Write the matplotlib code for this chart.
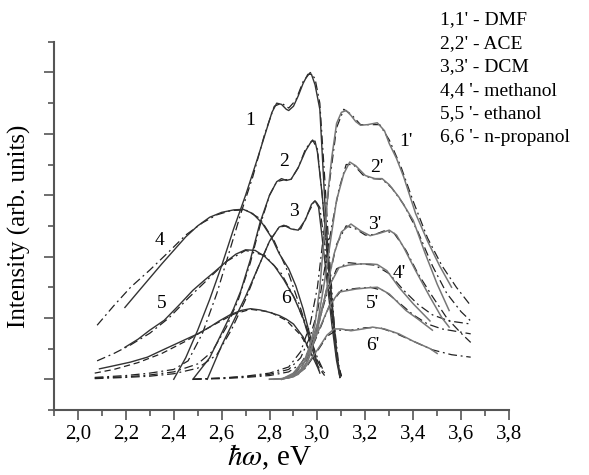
import numpy as np
import matplotlib
matplotlib.use("Agg")
import matplotlib.pyplot as plt
from matplotlib.ticker import MultipleLocator

plt.rcParams['font.family'] = ['Liberation Serif', 'DejaVu Serif']
plt.rcParams['mathtext.fontset'] = 'stix'

# absorption curves 1-6 (solid) and their fits (dash-dot)
x1 = [2.40, 2.45, 2.50, 2.55, 2.60, 2.65, 2.70, 2.75, 2.79, 2.81, 2.83, 2.85, 2.87, 2.88, 2.90, 2.92, 2.94, 2.96, 2.975, 2.99, 3.00, 3.01, 3.035, 3.06, 3.08, 3.094]
y1 = [0.0, 0.35, 0.8, 1.3, 1.85, 2.45, 3.0, 3.6, 4.1, 4.35, 4.5, 4.48, 4.4, 4.38, 4.45, 4.62, 4.82, 4.97, 4.97, 4.8, 4.6, 4.4, 2.59, 1.3, 0.45, 0.03]
x2 = [2.48, 2.55, 2.60, 2.65, 2.68, 2.72, 2.76, 2.80, 2.83, 2.85, 2.87, 2.89, 2.92, 2.95, 2.975, 2.99, 3.00, 3.02, 3.04, 3.06, 3.08, 3.094]
y2 = [0.0, 0.35, 0.75, 1.15, 1.44, 1.95, 2.55, 3.0, 3.22, 3.27, 3.24, 3.26, 3.45, 3.72, 3.88, 3.88, 3.7, 3.0, 2.1, 1.2, 0.4, 0.03]
x3 = [2.54, 2.60, 2.65, 2.70, 2.75, 2.80, 2.84, 2.86, 2.89, 2.92, 2.95, 2.975, 2.99, 3.005, 3.02, 3.04, 3.06, 3.08, 3.094]
y3 = [0.0, 0.55, 0.95, 1.35, 1.8, 2.25, 2.48, 2.51, 2.45, 2.43, 2.6, 2.85, 2.91, 2.8, 2.3, 1.6, 0.9, 0.3, 0.03]
x4 = [2.196, 2.25, 2.30, 2.35, 2.40, 2.45, 2.50, 2.55, 2.60, 2.65, 2.69, 2.73, 2.77, 2.81, 2.84, 2.88, 2.91, 2.94, 2.97, 2.99, 3.005]
y4 = [1.17, 1.42, 1.65, 1.88, 2.1, 2.32, 2.5, 2.64, 2.72, 2.76, 2.77, 2.7, 2.54, 2.3, 2.05, 1.8, 1.52, 1.15, 0.7, 0.4, 0.15]
x5 = [2.196, 2.25, 2.30, 2.36, 2.42, 2.48, 2.53, 2.57, 2.62, 2.66, 2.70, 2.74, 2.78, 2.82, 2.86, 2.90, 2.94, 2.97, 3.00, 3.01]
y5 = [0.52, 0.65, 0.8, 0.96, 1.2, 1.45, 1.62, 1.75, 1.92, 2.04, 2.11, 2.1, 2.0, 1.85, 1.62, 1.35, 1.0, 0.6, 0.22, 0.1]
x6 = [2.09, 2.15, 2.22, 2.29, 2.35, 2.40, 2.45, 2.50, 2.55, 2.59, 2.635, 2.68, 2.72, 2.76, 2.80, 2.84, 2.87, 2.90, 2.94, 2.975, 3.00]
y6 = [0.17, 0.22, 0.28, 0.36, 0.47, 0.56, 0.65, 0.74, 0.85, 0.95, 1.05, 1.12, 1.15, 1.13, 1.09, 1.04, 0.98, 0.9, 0.69, 0.41, 0.2]

xf1 = [2.07, 2.2, 2.3, 2.4, 2.46, 2.52, 2.58, 2.63, 2.68, 2.73, 2.78, 2.82, 2.85, 2.88, 2.91, 2.94, 2.97, 2.99, 3.01, 3.03, 3.05, 3.07, 3.09, 3.10]
yf1 = [0.03, 0.06, 0.1, 0.16, 0.3, 0.75, 1.4, 2.05, 2.7, 3.3, 4.0, 4.45, 4.5, 4.42, 4.55, 4.85, 5.0, 4.9, 4.5, 3.3, 2.0, 0.9, 0.2, 0.05]
xf2 = [2.07, 2.2, 2.3, 2.4, 2.5, 2.56, 2.62, 2.67, 2.72, 2.76, 2.80, 2.83, 2.86, 2.89, 2.92, 2.95, 2.98, 3.00, 3.02, 3.04, 3.06, 3.08, 3.10]
yf2 = [0.02, 0.04, 0.07, 0.12, 0.25, 0.45, 0.85, 1.3, 1.9, 2.5, 3.0, 3.22, 3.25, 3.26, 3.45, 3.75, 3.9, 3.75, 3.0, 2.05, 1.1, 0.35, 0.05]
xf3 = [2.07, 2.2, 2.3, 2.4, 2.5, 2.58, 2.64, 2.70, 2.75, 2.80, 2.84, 2.87, 2.90, 2.93, 2.96, 2.99, 3.01, 3.03, 3.05, 3.07, 3.09, 3.10]
yf3 = [0.01, 0.03, 0.05, 0.09, 0.18, 0.4, 0.8, 1.3, 1.8, 2.25, 2.48, 2.5, 2.44, 2.45, 2.7, 2.92, 2.8, 2.2, 1.4, 0.7, 0.15, 0.03]
xf4 = [2.08, 2.15, 2.22, 2.3, 2.38, 2.45, 2.52, 2.58, 2.64, 2.70, 2.76, 2.82, 2.88, 2.93, 2.97, 3.00, 3.03]
yf4 = [0.88, 1.2, 1.5, 1.78, 2.08, 2.35, 2.55, 2.68, 2.75, 2.76, 2.62, 2.25, 1.72, 1.15, 0.65, 0.3, 0.08]
xf5 = [2.08, 2.15, 2.22, 2.3, 2.38, 2.46, 2.54, 2.62, 2.70, 2.78, 2.85, 2.91, 2.96, 3.00, 3.03]
yf5 = [0.3, 0.42, 0.56, 0.75, 1.0, 1.32, 1.62, 1.92, 2.1, 2.02, 1.72, 1.28, 0.78, 0.35, 0.1]
xf6 = [2.07, 2.15, 2.25, 2.35, 2.45, 2.55, 2.65, 2.72, 2.80, 2.87, 2.93, 2.97, 3.00, 3.03]
yf6 = [0.1, 0.16, 0.27, 0.42, 0.62, 0.85, 1.06, 1.14, 1.1, 0.96, 0.72, 0.45, 0.22, 0.06]

# emission curves 1'-6' (grey) and their fits
e1x = [2.80, 2.86, 2.90, 2.93, 2.96, 2.99, 3.01, 3.03, 3.045, 3.06, 3.08, 3.10, 3.12, 3.14, 3.16, 3.18, 3.21, 3.25, 3.28, 3.30, 3.33, 3.36, 3.41, 3.46, 3.51, 3.56]
e1y = [0.0, 0.01, 0.05, 0.15, 0.4, 0.9, 1.5, 2.4, 3.08, 3.62, 4.17, 4.35, 4.38, 4.3, 4.2, 4.14, 4.15, 4.18, 4.05, 3.84, 3.6, 3.30, 2.70, 2.25, 1.85, 1.5]
e2x = [2.80, 2.86, 2.90, 2.94, 2.97, 3.00, 3.03, 3.06, 3.08, 3.11, 3.135, 3.16, 3.20, 3.24, 3.27, 3.30, 3.34, 3.40, 3.45, 3.50, 3.55]
e2y = [0.0, 0.01, 0.04, 0.15, 0.4, 0.9, 1.6, 2.4, 2.92, 3.35, 3.54, 3.48, 3.32, 3.27, 3.27, 3.17, 2.97, 2.59, 2.05, 1.55, 1.12]
e3x = [2.82, 2.88, 2.92, 2.96, 3.00, 3.04, 3.07, 3.10, 3.14, 3.18, 3.22, 3.26, 3.30, 3.33, 3.36, 3.41, 3.47, 3.52, 3.55]
e3y = [0.0, 0.02, 0.08, 0.3, 0.8, 1.5, 2.05, 2.4, 2.53, 2.42, 2.34, 2.38, 2.43, 2.35, 2.15, 1.77, 1.34, 1.0, 0.85]
e4x = [2.85, 2.90, 2.95, 3.00, 3.04, 3.09, 3.13, 3.18, 3.22, 3.25, 3.29, 3.34, 3.40, 3.47]
e4y = [0.0, 0.1, 0.35, 0.9, 1.45, 1.82, 1.86, 1.88, 1.88, 1.87, 1.77, 1.5, 1.23, 0.95]
e5x = [2.85, 2.90, 2.95, 3.00, 3.05, 3.09, 3.16, 3.21, 3.25, 3.30, 3.37, 3.42, 3.48]
e5y = [0.0, 0.08, 0.3, 0.75, 1.2, 1.42, 1.47, 1.49, 1.50, 1.39, 1.12, 0.98, 0.8]
e6x = [2.85, 2.90, 2.95, 3.00, 3.04, 3.07, 3.10, 3.14, 3.19, 3.23, 3.28, 3.34, 3.40, 3.47, 3.50]
e6y = [0.0, 0.06, 0.2, 0.48, 0.72, 0.82, 0.82, 0.79, 0.82, 0.85, 0.82, 0.74, 0.62, 0.5, 0.42]

ef1x = [2.48, 2.6, 2.7, 2.8, 2.88, 2.93, 2.97, 3.0, 3.03, 3.05, 3.08, 3.11, 3.14, 3.18, 3.22, 3.26, 3.30, 3.35, 3.40, 3.46, 3.52, 3.58, 3.64]
ef1y = [0.0, 0.02, 0.05, 0.1, 0.2, 0.45, 0.9, 1.5, 2.5, 3.2, 4.1, 4.4, 4.32, 4.15, 4.15, 4.15, 3.9, 3.45, 2.9, 2.3, 1.85, 1.5, 1.2]
ef2x = [2.48, 2.6, 2.7, 2.8, 2.88, 2.93, 2.97, 3.0, 3.03, 3.06, 3.09, 3.12, 3.15, 3.19, 3.23, 3.27, 3.31, 3.36, 3.42, 3.48, 3.54, 3.60, 3.64]
ef2y = [0.0, 0.02, 0.04, 0.08, 0.16, 0.35, 0.7, 1.1, 1.8, 2.5, 3.1, 3.5, 3.5, 3.33, 3.27, 3.26, 3.12, 2.85, 2.4, 1.85, 1.4, 1.1, 0.95]
ef3x = [2.48, 2.6, 2.7, 2.8, 2.88, 2.93, 2.97, 3.0, 3.04, 3.08, 3.12, 3.16, 3.20, 3.24, 3.28, 3.32, 3.37, 3.42, 3.48, 3.54, 3.60, 3.64]
ef3y = [0.0, 0.01, 0.03, 0.06, 0.12, 0.25, 0.5, 0.8, 1.5, 2.2, 2.5, 2.45, 2.35, 2.36, 2.42, 2.38, 2.1, 1.72, 1.35, 1.0, 0.75, 0.6]
ef4x = [2.9, 2.95, 3.0, 3.04, 3.08, 3.13, 3.18, 3.24, 3.30, 3.36, 3.42, 3.48, 3.55, 3.64]
ef4y = [0.1, 0.3, 0.85, 1.4, 1.8, 1.9, 1.88, 1.86, 1.72, 1.45, 1.22, 1.05, 0.95, 0.9]
ef5x = [2.9, 2.95, 3.0, 3.05, 3.10, 3.16, 3.22, 3.28, 3.34, 3.40, 3.46, 3.52, 3.58, 3.64]
ef5y = [0.07, 0.28, 0.72, 1.2, 1.45, 1.48, 1.5, 1.44, 1.25, 1.05, 0.9, 0.82, 0.78, 0.74]
ef6x = [2.9, 2.95, 3.0, 3.04, 3.08, 3.14, 3.20, 3.26, 3.32, 3.40, 3.48, 3.56, 3.64]
ef6y = [0.05, 0.18, 0.46, 0.7, 0.8, 0.8, 0.84, 0.84, 0.76, 0.62, 0.48, 0.4, 0.36]

abs_curves = [(x1, y1), (x2, y2), (x3, y3), (x4, y4), (x5, y5), (x6, y6)]
abs_fits = [(xf1, yf1), (xf2, yf2), (xf3, yf3), (xf4, yf4), (xf5, yf5), (xf6, yf6)]
em_curves = [(e1x, e1y), (e2x, e2y), (e3x, e3y), (e4x, e4y), (e5x, e5y), (e6x, e6y)]
em_fits = [(ef1x, ef1y), (ef2x, ef2y), (ef3x, ef3y), (ef4x, ef4y), (ef5x, ef5y), (ef6x, ef6y)]

abs_labels = ['1', '2', '3', '4', '5', '6']
abs_label_x = [2.72, 2.86, 2.90, 2.34, 2.35, 2.87]
abs_label_y = [4.22, 3.55, 2.73, 2.26, 1.23, 1.31]
em_labels = ["1'", "2'", "3'", "4'", "5'", "6'"]
em_label_x = [3.37, 3.25, 3.24, 3.34, 3.23, 3.23]
em_label_y = [3.88, 3.45, 2.52, 1.72, 1.23, 0.55]

legend_lines = ["1,1' - DMF", "2,2' - ACE", "3,3' - DCM",
                "4,4 '- methanol", "5,5 '- ethanol", "6,6 '- n-propanol"]

xticks = [2.0, 2.2, 2.4, 2.6, 2.8, 3.0, 3.2, 3.4, 3.6, 3.8]
xticklabels = ['2,0', '2,2', '2,4', '2,6', '2,8', '3,0', '3,2', '3,4', '3,6', '3,8']

fig = plt.figure(figsize=(5.89, 4.75), dpi=100)
ax = fig.add_axes([0.0917, 0.137, 0.7725, 0.775])

dashdot = (0, (7, 3, 1.5, 3))
for i, (x, y) in enumerate(abs_fits):
    ls = (0, (5, 3)) if i == 5 else dashdot
    ax.plot(x, y, color='#222222', lw=0.9, linestyle=ls)
for x, y in abs_curves:
    ax.plot(x, y, color='#333333', lw=1.0)
for x, y in em_fits:
    ax.plot(x, y, color='#222222', lw=0.9, linestyle=dashdot)
for x, y in em_curves:
    ax.plot(x, y, color='#777777', lw=1.1)

for t, x, y in zip(abs_labels, abs_label_x, abs_label_y):
    ax.text(x, y, t, fontsize=14, ha='center', va='center')
for t, x, y in zip(em_labels, em_label_x, em_label_y):
    ax.text(x, y, t, fontsize=14, ha='center', va='center')

for i, t in enumerate(legend_lines):
    fig.text(440 / 589, 1 - (20 + 23.4 * i) / 475, t, fontsize=14, va='center', ha='left')

ax.set_xlim(1.9, 3.8)
ax.set_ylim(-0.5, 5.5)
ax.set_xticks(xticks)
ax.set_xticklabels(xticklabels, fontsize=15)
ax.xaxis.set_minor_locator(MultipleLocator(0.1))
ax.yaxis.set_major_locator(MultipleLocator(1))
ax.yaxis.set_minor_locator(MultipleLocator(0.5))
ax.set_yticklabels([])
ax.tick_params(which='major', length=7, width=1.2, color='#555555', direction='out')
ax.tick_params(which='minor', length=4, width=1.2, color='#555555', direction='out')
for s in ['top', 'right']:
    ax.spines[s].set_visible(False)
for s in ['left', 'bottom']:
    ax.spines[s].set_color('#555555')
    ax.spines[s].set_linewidth(1.5)

ax.set_xlabel(r'$\hbar\omega$, eV', fontsize=21, labelpad=1)
ax.xaxis.set_label_coords(0.4725, -0.09)
ax.set_ylabel('Intensity (arb. units)', fontsize=18, labelpad=6)

fig.savefig('out.png', dpi=100)
